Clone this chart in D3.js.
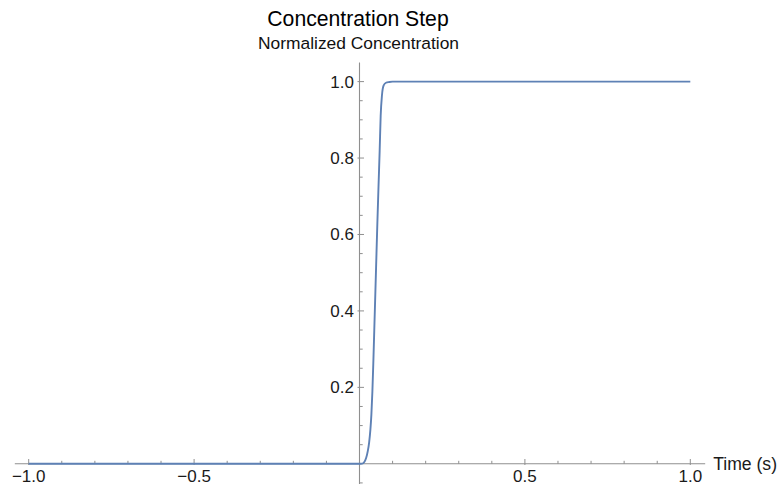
<!DOCTYPE html>
<html>
<head>
<meta charset="utf-8">
<script src="https://cdn.jsdelivr.net/npm/d3@7"></script>
<style>
  html, body { margin: 0; padding: 0; background: #fff; }
  svg { display: block; font-family: "Liberation Sans", Arial, sans-serif; }
</style>
</head>
<body>
<svg id="chart" width="782" height="486"></svg>
<script>
// ---- data ----
const time = [-1.0, 0.0, 0.008, 0.014, 0.020, 0.025, 0.029, 0.033, 0.036, 0.039, 0.042, 0.046, 0.050, 0.054, 0.058, 0.061, 0.064, 0.068, 0.073, 0.080, 0.090, 0.100, 1.0];
const conc = [0, 0, 0.0005, 0.004, 0.015, 0.033, 0.055, 0.09, 0.13, 0.19, 0.27, 0.39, 0.51, 0.63, 0.74, 0.82, 0.91, 0.965, 0.99, 0.997, 0.999, 1.0, 1.0];
const xTickValues = [-1.0, -0.5, 0.5, 1.0];
const xTickLabels = ["\u22121.0", "\u22120.5", "0.5", "1.0"];
const yTickValues = [0.2, 0.4, 0.6, 0.8, 1.0];
const yTickLabels = ["0.2", "0.4", "0.6", "0.8", "1.0"];
const title = "Concentration Step";
const subtitle = "Normalized Concentration";
const xLabel = "Time (s)";

// ---- layout ----
const svg = d3.select("#chart");
const x = d3.scaleLinear().domain([-1, 1]).range([28.7, 690.3]);
const y = d3.scaleLinear().domain([0, 1]).range([463.8, 81.6]);
const axisColor = "#8f8f8f";
const labelColor = "#1a1a1a";

const xMin = -1.042, xMax = 1.045, yMin = -0.053, yMax = 1.05;

// axes lines
svg.append("line").attr("x1", x(xMin)).attr("x2", x(xMax)).attr("y1", y(0)).attr("y2", y(0))
  .attr("stroke", axisColor).attr("stroke-width", 1.1);
svg.append("line").attr("x1", x(0)).attr("x2", x(0)).attr("y1", y(yMin)).attr("y2", y(yMax))
  .attr("stroke", axisColor).attr("stroke-width", 1.1);

// x minor ticks
const xMinor = d3.range(-10, 11).map(d => d / 10).filter(d => Math.abs(d) > 1e-9 && !xTickValues.some(v => Math.abs(v - d) < 1e-9));
svg.append("g").selectAll("line").data(xMinor).join("line")
  .attr("x1", d => x(d)).attr("x2", d => x(d))
  .attr("y1", y(0)).attr("y2", y(0) - 3)
  .attr("stroke", axisColor).attr("stroke-width", 1);
// x major ticks
svg.append("g").selectAll("line").data(xTickValues).join("line")
  .attr("x1", d => x(d)).attr("x2", d => x(d))
  .attr("y1", y(0) + 1.2).attr("y2", y(0) - 4.8)
  .attr("stroke", axisColor).attr("stroke-width", 1);
svg.append("g").selectAll("text").data(xTickValues).join("text")
  .attr("x", d => x(d)).attr("y", 482)
  .attr("text-anchor", "middle")
  .attr("font-size", 17).attr("fill", labelColor)
  .text((d, i) => xTickLabels[i]);

// y minor ticks
const yMinor = d3.range(-1, 21).map(d => d / 20).filter(d => Math.abs(d) > 1e-9 && !yTickValues.some(v => Math.abs(v - d) < 1e-9));
svg.append("g").selectAll("line").data(yMinor).join("line")
  .attr("x1", x(0)).attr("x2", x(0) + 3.2)
  .attr("y1", d => y(d)).attr("y2", d => y(d))
  .attr("stroke", axisColor).attr("stroke-width", 1);
// y major ticks
svg.append("g").selectAll("line").data(yTickValues).join("line")
  .attr("x1", x(0) - 2).attr("x2", x(0) + 4.5)
  .attr("y1", d => y(d)).attr("y2", d => y(d))
  .attr("stroke", axisColor).attr("stroke-width", 1);
svg.append("g").selectAll("text").data(yTickValues).join("text")
  .attr("x", x(0) - 5.5).attr("y", d => y(d) + 6)
  .attr("text-anchor", "end")
  .attr("font-size", 17).attr("fill", labelColor)
  .text((d, i) => yTickLabels[i]);

// axis label
svg.append("text").attr("x", x(xMax) + 8).attr("y", y(0) + 5.8)
  .attr("font-size", 17.6).attr("fill", labelColor).text(xLabel);

// titles
svg.append("text").attr("x", 358).attr("y", 26)
  .attr("text-anchor", "middle").attr("font-size", 21.2).attr("fill", "#000").text(title);
svg.append("text").attr("x", 358.5).attr("y", 49)
  .attr("text-anchor", "middle").attr("font-size", 17.4).attr("fill", "#111").text(subtitle);

// curve
const pts = time.map((t, i) => [t, conc[i]]);
const line = d3.line().x(d => x(d[0])).y(d => y(d[1])).curve(d3.curveMonotoneX);
svg.append("path").datum(pts).attr("d", line)
  .attr("fill", "none").attr("stroke", "#5e81b5").attr("stroke-width", 1.9)
  .attr("stroke-linejoin", "round");
</script>
</body>
</html>
